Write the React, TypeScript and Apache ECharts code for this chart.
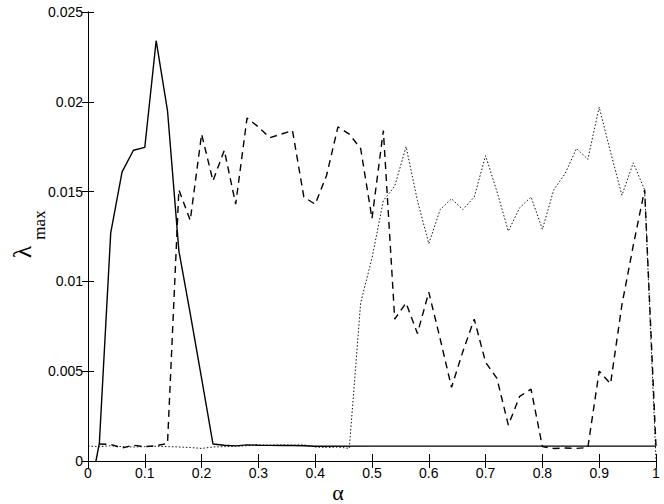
import React, { useEffect, useRef } from "react";
import * as echarts from "echarts";

// Solid curve: [alpha, lambda_max]
const solidData: [number, number][] = [
  [0.014, 0], [0.02, 0.001], [0.04, 0.0127], [0.06, 0.0161], [0.08, 0.0173],
  [0.1, 0.01746], [0.12, 0.0234], [0.14, 0.0195], [0.16, 0.0117], [0.18, 0.0082],
  [0.2, 0.0046], [0.22, 0.00095], [0.24, 0.00088], [0.26, 0.00084], [0.28, 0.0009],
  [0.3, 0.00088], [0.32, 0.00087], [0.34, 0.00086], [0.36, 0.00086], [0.38, 0.00085],
  [0.4, 0.00082], [0.5, 0.00083], [0.6, 0.00083], [0.7, 0.00083], [0.8, 0.00083],
  [0.9, 0.00083], [1.0, 0.00083],
];

// Dashed curve
const dashedData: [number, number][] = [
  [0.02, 0.00095], [0.04, 0.00092], [0.06, 0.00072], [0.08, 0.00088], [0.1, 0.0008],
  [0.12, 0.00085], [0.14, 0.00098], [0.16, 0.0151], [0.18, 0.0134], [0.2, 0.0182],
  [0.22, 0.0156], [0.24, 0.0173], [0.26, 0.0143], [0.28, 0.0191], [0.3, 0.0186],
  [0.32, 0.018], [0.34, 0.0182], [0.36, 0.0184], [0.38, 0.0147], [0.4, 0.0143],
  [0.42, 0.0159], [0.44, 0.0186], [0.46, 0.0182], [0.48, 0.0174], [0.5, 0.0135],
  [0.52, 0.0184], [0.54, 0.0079], [0.56, 0.0088], [0.58, 0.0071], [0.6, 0.0094],
  [0.62, 0.0068], [0.64, 0.0041], [0.66, 0.0061], [0.68, 0.0079], [0.7, 0.0055],
  [0.72, 0.0046], [0.74, 0.002], [0.76, 0.0036], [0.78, 0.004], [0.8, 0.0008],
  [0.82, 0.0007], [0.84, 0.00072], [0.86, 0.0007], [0.88, 0.00075], [0.9, 0.005],
  [0.92, 0.0043], [0.94, 0.0087], [0.96, 0.012], [0.98, 0.0151], [1.0, 0.0008],
];

// Dotted curve
const dottedData: [number, number][] = [
  [0, 0.00083], [0.02, 0.0008], [0.04, 0.00085], [0.06, 0.0008], [0.08, 0.00078],
  [0.1, 0.0008], [0.12, 0.00082], [0.14, 0.0008], [0.16, 0.00078], [0.18, 0.00075],
  [0.2, 0.0007], [0.22, 0.00078], [0.24, 0.0008], [0.26, 0.00082], [0.28, 0.00085],
  [0.3, 0.0009], [0.32, 0.00088], [0.34, 0.0009], [0.36, 0.00088], [0.38, 0.0009],
  [0.4, 0.00078], [0.42, 0.00075], [0.44, 0.00078], [0.46, 0.0007], [0.48, 0.0088],
  [0.5, 0.0113], [0.52, 0.0145], [0.54, 0.0153], [0.56, 0.0175], [0.58, 0.0145],
  [0.6, 0.0121], [0.62, 0.014], [0.64, 0.0146], [0.66, 0.014], [0.68, 0.0147],
  [0.7, 0.017], [0.72, 0.015], [0.74, 0.0128], [0.76, 0.0141], [0.78, 0.0147],
  [0.8, 0.0129], [0.82, 0.0151], [0.84, 0.016], [0.86, 0.0174], [0.88, 0.0168],
  [0.9, 0.0197], [0.92, 0.0172], [0.94, 0.0148], [0.96, 0.0166], [0.98, 0.0151],
  [1.0, 0.0],
];

const xLabelTitle = "α";
const yLabelMain = "λ";
const yLabelSub = "max";

export default function App() {
  const ref = useRef<HTMLDivElement>(null);
  useEffect(() => {
    if (!ref.current) return;
    const chart = echarts.init(ref.current, null, { renderer: "svg" });
    const axisFont = { fontFamily: "Liberation Sans, Arial, sans-serif", fontSize: 14, color: "#000" };
    const lineAxis = { show: true, lineStyle: { color: "#000", width: 1 } };
    chart.setOption({
      animation: false,
      backgroundColor: "#fff",
      grid: { left: 88, right: 8, top: 12, bottom: 43, outerBoundsMode: "none" },
      xAxis: [
        {
          type: "value", min: 0, max: 1, interval: 0.1, position: "bottom",
          axisLine: lineAxis,
          axisTick: { show: true, inside: true, length: 7, lineStyle: { color: "#000" } },
          axisLabel: { ...axisFont, margin: 5, formatter: (v: number) => String(Math.round(v * 10) / 10) },
          splitLine: { show: false },
        },
        {
          type: "value", min: 0, max: 1, interval: 0.1, position: "top",
          axisLine: lineAxis,
          axisTick: { show: true, inside: true, length: 7, lineStyle: { color: "#000" } },
          axisLabel: { show: false },
          splitLine: { show: false },
        },
      ],
      yAxis: [
        {
          type: "value", min: 0, max: 0.025, interval: 0.005, position: "left",
          axisLine: lineAxis,
          axisTick: { show: true, inside: true, length: 6, lineStyle: { color: "#000" } },
          axisLabel: { ...axisFont, margin: 5, formatter: (v: number) => String(parseFloat(v.toFixed(3))) },
          splitLine: { show: false },
        },
        {
          type: "value", min: 0, max: 0.025, interval: 0.005, position: "right",
          axisLine: lineAxis,
          axisTick: { show: true, inside: true, length: 6, lineStyle: { color: "#000" } },
          axisLabel: { show: false },
          splitLine: { show: false },
        },
      ],
      series: [
        {
          type: "line", data: dottedData, showSymbol: false, symbol: "none",
          lineStyle: { color: "#111", width: 1, type: [1.5, 2] },
        },
        {
          type: "line", data: dashedData, showSymbol: false, symbol: "none",
          lineStyle: { color: "#000", width: 1.4, type: [7, 5] },
        },
        {
          type: "line", data: solidData, showSymbol: false, symbol: "none",
          lineStyle: { color: "#000", width: 1.4, type: "solid" },
        },
      ],
      graphic: [
        {
          type: "text", x: 338, y: 492,
          style: { text: xLabelTitle, font: "22px 'Liberation Serif', serif", fill: "#000", align: "center", verticalAlign: "middle" },
        },
        {
          type: "text", x: 22, y: 252, rotation: Math.PI / 2,
          style: { text: yLabelMain, font: "26px 'Liberation Serif', serif", fill: "#000", align: "center", verticalAlign: "middle" },
        },
        {
          type: "text", x: 39, y: 225, rotation: Math.PI / 2,
          style: { text: yLabelSub, font: "17px 'Liberation Serif', serif", fill: "#000", align: "center", verticalAlign: "middle" },
        },
      ],
    });
    return () => chart.dispose();
  }, []);
  return <div ref={ref} style={{ position: "absolute", left: 0, top: 0, width: 664, height: 504 }} />;
}
